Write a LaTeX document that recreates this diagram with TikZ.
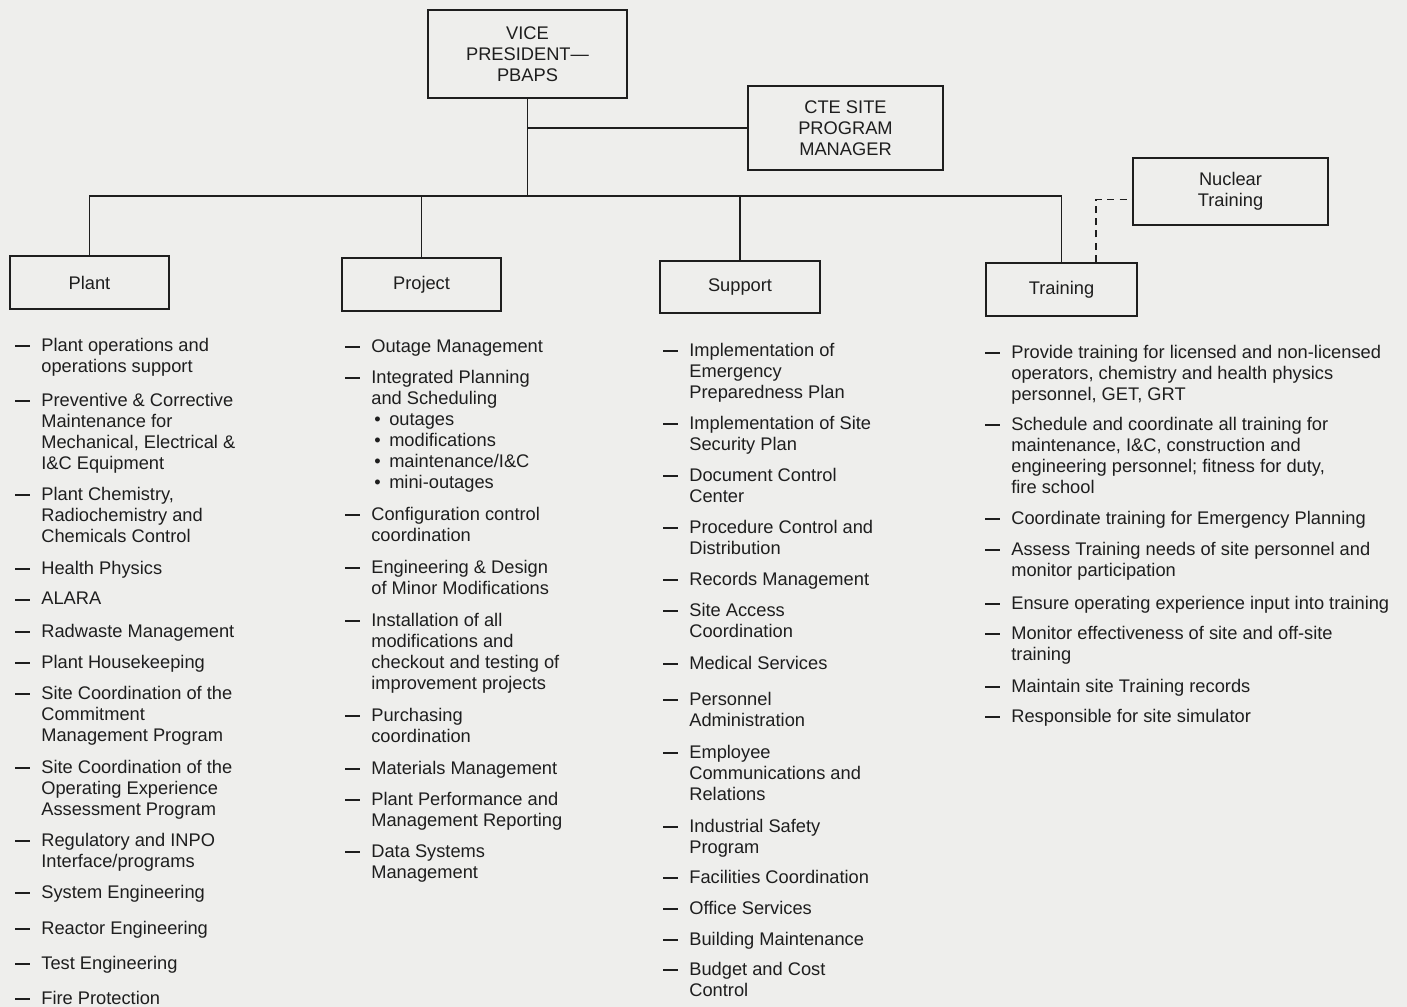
\documentclass[tikz,border=0pt]{standalone}
\usepackage{fontspec}
\setmainfont{Liberation Sans}
\usepackage{xcolor}
\usepackage{tikz}
\definecolor{ink}{RGB}{30,30,30}
\definecolor{paper}{RGB}{238,238,236}
\newcommand{\chartfont}{\fontsize{10.4}{11.95}\selectfont}
\newcommand{\itemdash}{\llap{\rule[2.4pt]{8.5pt}{1.1pt}\hspace{6.3pt}}}
\newcommand{\projbullet}{\hspace*{1.7pt}\makebox[8.5pt][l]{\textbullet}}
\tikzset{
  unit/.style={draw=ink, line width=1.1pt, align=center, font=\chartfont, text=ink},
  duty/.style={anchor=north west, inner sep=0pt, align=left, font=\chartfont, text=ink},
  link/.style={draw=ink, line width=1.1pt},
  liaison/.style={draw=ink, line width=1.1pt, dash pattern=on 4pt off 3pt},
}
\begin{document}
\begin{tikzpicture}[x=0.02cm, y=-0.02cm]
            \fill[paper] (0,0) rectangle (1407,1007);
            \useasboundingbox (0,0) rectangle (1407,1007);
            \node[unit, minimum width=3.98cm, minimum height=1.76cm] (vp) at (527.5,54) {VICE\\PRESIDENT—\\PBAPS};
            \node[unit, minimum width=3.9cm, minimum height=1.68cm] (cte) at (845.5,128) {CTE SITE\\PROGRAM\\MANAGER};
            \node[unit, minimum width=3.9cm, minimum height=1.34cm] (nuc) at (1230.5,191.5) {Nuclear\\Training};
            \node[unit, minimum width=3.18cm, minimum height=1.06cm] (plant) at (89.5,282.5) {Plant};
            \node[unit, minimum width=3.18cm, minimum height=1.06cm] (project) at (421.5,284.5) {Project};
            \node[unit, minimum width=3.2cm, minimum height=1.04cm] (support) at (740,287) {Support};
            \node[unit, minimum width=3.02cm, minimum height=1.06cm] (training) at (1061.5,289.5) {Training};
            \coordinate (bus) at (527.5,196);
            \draw[link] (vp.south) -- (bus);
            \draw[link] (vp.south |- cte.west) -- (cte.west);
            \draw[link] (plant.north) -- (plant.north |- bus) -- (training.north |- bus) -- (training.north);
            \draw[link] (project.north |- bus) -- (project.north);
            \draw[link] (support.north |- bus) -- (support.north);
            \draw[liaison] (training.north) ++(34.5,0) |- ([yshift=-0.16cm]nuc.west);
            \node[duty] (pl1) at (41,338) {\itemdash Plant operations and\\operations support};
            \node[duty] (pl2) at (41,393) {\itemdash Preventive \& Corrective\\Maintenance for\\Mechanical, Electrical \&\\I\&C Equipment};
            \node[duty] (pl3) at (41,487) {\itemdash Plant Chemistry,\\Radiochemistry and\\Chemicals Control};
            \node[duty] (pl4) at (41,561) {\itemdash Health Physics};
            \node[duty] (pl5) at (41,592) {\itemdash ALARA};
            \node[duty] (pl6) at (41,624) {\itemdash Radwaste Management};
            \node[duty] (pl7) at (41,655) {\itemdash Plant Housekeeping};
            \node[duty] (pl8) at (41,686) {\itemdash Site Coordination of the\\Commitment\\Management Program};
            \node[duty] (pl9) at (41,760) {\itemdash Site Coordination of the\\Operating Experience\\Assessment Program};
            \node[duty] (pl10) at (41,833) {\itemdash Regulatory and INPO\\Interface/programs};
            \node[duty] (pl11) at (41,885) {\itemdash System Engineering};
            \node[duty] (pl12) at (41,921) {\itemdash Reactor Engineering};
            \node[duty] (pl13) at (41,956) {\itemdash Test Engineering};
            \node[duty] (pl14) at (41,991) {\itemdash Fire Protection};
            \node[duty] (pr1) at (371,339) {\itemdash Outage Management};
            \node[duty] (pr2) at (371,370) {\itemdash Integrated Planning\\and Scheduling\\\projbullet outages\\\projbullet modifications\\\projbullet maintenance/I\&C\\\projbullet mini-outages};
            \node[duty] (pr3) at (371,507) {\itemdash Configuration control\\coordination};
            \node[duty] (pr4) at (371,560) {\itemdash Engineering \& Design\\of Minor Modifications};
            \node[duty] (pr5) at (371,613) {\itemdash Installation of all\\modifications and\\checkout and testing of\\improvement projects};
            \node[duty] (pr6) at (371,708) {\itemdash Purchasing\\coordination};
            \node[duty] (pr7) at (371,761) {\itemdash Materials Management};
            \node[duty] (pr8) at (371,792) {\itemdash Plant Performance and\\Management Reporting};
            \node[duty] (pr9) at (371,844) {\itemdash Data Systems\\Management};
            \node[duty] (su1) at (689,343) {\itemdash Implementation of\\Emergency\\Preparedness Plan};
            \node[duty] (su2) at (689,416) {\itemdash Implementation of Site\\Security Plan};
            \node[duty] (su3) at (689,468) {\itemdash Document Control\\Center};
            \node[duty] (su4) at (689,520) {\itemdash Procedure Control and\\Distribution};
            \node[duty] (su5) at (689,572) {\itemdash Records Management};
            \node[duty] (su6) at (689,603) {\itemdash Site Access\\Coordination};
            \node[duty] (su7) at (689,656) {\itemdash Medical Services};
            \node[duty] (su8) at (689,692) {\itemdash Personnel\\Administration};
            \node[duty] (su9) at (689,745) {\itemdash Employee\\Communications and\\Relations};
            \node[duty] (su10) at (689,819) {\itemdash Industrial Safety\\Program};
            \node[duty] (su11) at (689,870) {\itemdash Facilities Coordination};
            \node[duty] (su12) at (689,901) {\itemdash Office Services};
            \node[duty] (su13) at (689,932) {\itemdash Building Maintenance};
            \node[duty] (su14) at (689,962) {\itemdash Budget and Cost\\Control};
            \node[duty] (tr1) at (1011,345) {\itemdash Provide training for licensed and non-licensed\\operators, chemistry and health physics\\personnel, GET, GRT};
            \node[duty] (tr2) at (1011,417) {\itemdash Schedule and coordinate all training for\\maintenance, I\&C, construction and\\engineering personnel; fitness for duty,\\fire school};
            \node[duty] (tr3) at (1011,511) {\itemdash Coordinate training for Emergency Planning};
            \node[duty] (tr4) at (1011,542) {\itemdash Assess Training needs of site personnel and\\monitor participation};
            \node[duty] (tr5) at (1011,596) {\itemdash Ensure operating experience input into training};
            \node[duty] (tr6) at (1011,626) {\itemdash Monitor effectiveness of site and off-site\\training};
            \node[duty] (tr7) at (1011,679) {\itemdash Maintain site Training records};
            \node[duty] (tr8) at (1011,709) {\itemdash Responsible for site simulator};
        \end{tikzpicture}
\end{document}
